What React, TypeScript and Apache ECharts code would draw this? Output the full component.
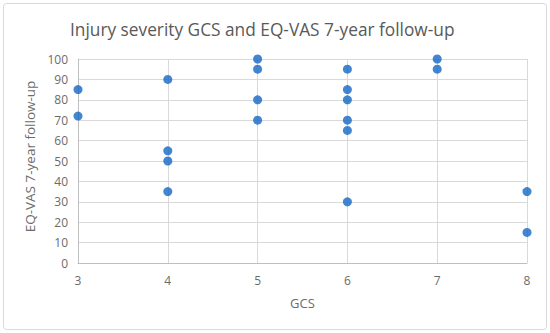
import React, { useEffect, useRef } from "react";
import * as echarts from "echarts";

const gcs = [3, 3, 4, 4, 4, 4, 5, 5, 5, 5, 6, 6, 6, 6, 6, 6, 7, 7, 8, 8];
const eqVas = [85, 72, 90, 55, 50, 35, 100, 95, 80, 70, 95, 85, 80, 70, 65, 30, 100, 95, 35, 15];
const title = "Injury severity GCS and EQ-VAS 7-year follow-up";
const xName = "GCS";
const yName = "EQ-VAS 7-year follow-up";

export default function App() {
  const ref = useRef<HTMLDivElement>(null);
  useEffect(() => {
    const chart = echarts.init(ref.current!, null, { renderer: "svg" });
    const font = "'Open Sans', 'Noto Sans', sans-serif";
    const labelColor = "#6b6b6b";
    chart.setOption({
      animation: false,
      backgroundColor: "#ffffff",
      textStyle: { fontFamily: font },
      graphic: [
        {
          type: "rect",
          shape: { x: 3.5, y: 3.5, width: 543, height: 326, r: 3 },
          style: { fill: "none", stroke: "#d9d9d9", lineWidth: 1 },
          silent: true,
        },
      ],
      title: {
        text: title,
        left: 65,
        top: 16,
        textStyle: { fontFamily: font, fontSize: 17.3, fontWeight: "normal", color: "#595959" },
      },
      grid: { left: 78, right: 23, top: 59, bottom: 70 },
      xAxis: {
        type: "value",
        min: 3,
        max: 8,
        interval: 1,
        name: xName,
        nameLocation: "middle",
        nameGap: 33,
        nameTextStyle: { fontSize: 13, color: labelColor, fontFamily: font },
        axisLine: { show: true, lineStyle: { color: "#bfbfbf" } },
        axisTick: { show: false },
        axisLabel: { fontSize: 12, color: labelColor, margin: 11, fontFamily: font },
        splitLine: { show: true, lineStyle: { color: "#d9d9d9" } },
      },
      yAxis: {
        type: "value",
        min: 0,
        max: 100,
        interval: 10,
        name: yName,
        nameLocation: "middle",
        nameRotate: 90,
        nameGap: 37,
        nameTextStyle: { fontSize: 13.5, color: labelColor, fontFamily: font, padding: [0, 0, 0, 9] },
        axisLine: { show: true, lineStyle: { color: "#bfbfbf" } },
        axisTick: { show: false },
        axisLabel: { fontSize: 12, color: labelColor, margin: 10, fontFamily: font },
        splitLine: { show: true, lineStyle: { color: "#d9d9d9" } },
      },
      series: [
        {
          type: "scatter",
          data: gcs.map((g, i) => [g, eqVas[i]]),
          symbol: "circle",
          symbolSize: 9,
          itemStyle: { color: "#1368c6" },
        },
      ],
    });
    return () => chart.dispose();
  }, []);
  return (
    <div
      ref={ref}
      style={{ position: "absolute", left: 0, top: 0, width: 550, height: 333 }}
    />
  );
}
